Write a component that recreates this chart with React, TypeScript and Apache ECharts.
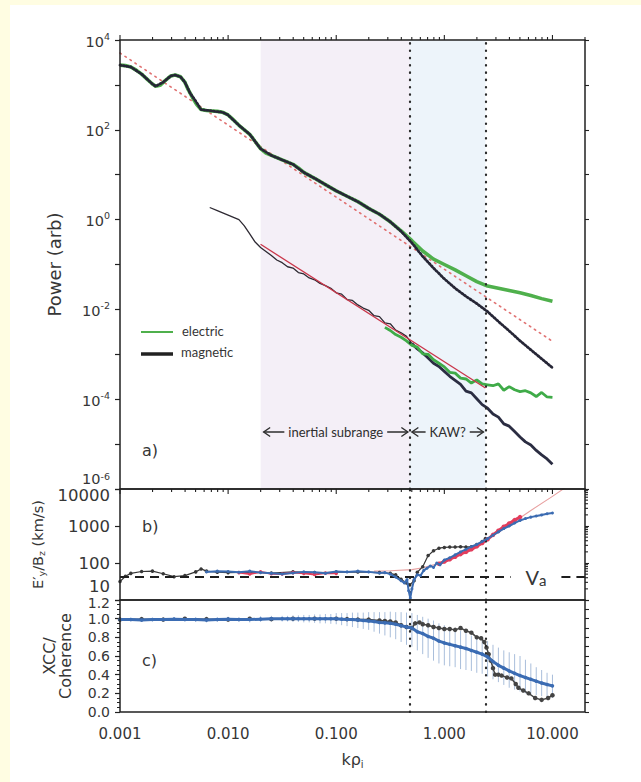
import React, { useEffect, useRef } from 'react';
import * as echarts from 'echarts';

// ---------- axis ranges (all plotted in log10 units where the axis is logarithmic) ----------
const LOGK_MIN = -3;                 // kρi = 0.001
const LOGK_MAX = Math.log10(20);     // kρi = 20
const LOGP_RANGE = [-6, 4];          // power 1e-6 .. 1e4
const LOGV_RANGE = [1, 4];           // 10 .. 10000 km/s
const COH_RANGE = [0, 1.2];

// ranges marked on the kρi axis
const K_INERTIAL_START = 0.02;
const K_KAW_START = 0.48;
const K_KAW_END = 2.4;

// Alfvén speed line (km/s) and the kρi span left open for its label
const VA = 42;
const VA_GAP = [4.1, 12.1];

// ---------- panel a: power spectra (log10 kρi, log10 power) ----------
const elecUpLogK = [-3.0, -2.95, -2.9, -2.85, -2.8, -2.75, -2.7, -2.67, -2.63, -2.58, -2.53, -2.49, -2.44, -2.4, -2.37, -2.33, -2.29, -2.25, -2.2, -2.15, -2.1, -2.05, -2.0, -1.95, -1.9, -1.85, -1.8, -1.75, -1.7, -1.65, -1.6, -1.55, -1.5, -1.45, -1.4, -1.35, -1.3, -1.2, -1.1, -1.0, -0.9, -0.8, -0.7, -0.6, -0.5, -0.4, -0.3, -0.2, -0.1, 0.0, 0.1, 0.2, 0.3, 0.4, 0.5, 0.6, 0.7, 0.8, 0.9, 1.0];
const elecUpLogP = [3.44, 3.43, 3.40, 3.33, 3.24, 3.13, 3.02, 2.97, 2.99, 3.10, 3.20, 3.22, 3.18, 3.06, 2.90, 2.72, 2.56, 2.45, 2.43, 2.42, 2.41, 2.39, 2.33, 2.22, 2.10, 2.00, 1.90, 1.74, 1.58, 1.48, 1.43, 1.38, 1.33, 1.28, 1.23, 1.15, 1.05, 0.92, 0.78, 0.64, 0.52, 0.40, 0.25, 0.12, -0.05, -0.25, -0.47, -0.70, -0.88, -1.0, -1.12, -1.25, -1.38, -1.48, -1.53, -1.58, -1.63, -1.69, -1.76, -1.82];

const magUpLogK = [-3.0, -2.9, -2.8, -2.7, -2.67, -2.6, -2.53, -2.49, -2.44, -2.4, -2.35, -2.3, -2.25, -2.15, -2.05, -2.0, -1.9, -1.8, -1.7, -1.6, -1.5, -1.4, -1.3, -1.2, -1.1, -1.0, -0.9, -0.8, -0.7, -0.6, -0.5, -0.4, -0.3, -0.2, -0.1, 0.0, 0.1, 0.2, 0.3, 0.4, 0.5, 0.6, 0.7, 0.8, 0.9, 1.0];
const magUpLogP = [3.44, 3.40, 3.24, 3.02, 2.97, 3.06, 3.20, 3.22, 3.18, 3.06, 2.81, 2.64, 2.45, 2.42, 2.39, 2.33, 2.10, 1.90, 1.58, 1.43, 1.33, 1.23, 1.05, 0.92, 0.78, 0.64, 0.52, 0.40, 0.25, 0.12, -0.05, -0.26, -0.52, -0.82, -1.08, -1.32, -1.53, -1.71, -1.87, -2.05, -2.27, -2.48, -2.70, -2.90, -3.10, -3.30];

const magLowLogK = [-2.17, -2.1, -2.05, -2.0, -1.95, -1.9, -1.85, -1.8, -1.75, -1.7, -1.65, -1.6, -1.55, -1.5, -1.45, -1.4, -1.35, -1.3, -1.25, -1.2, -1.15, -1.1, -1.05, -1.0, -0.95, -0.9, -0.85, -0.8, -0.75, -0.7, -0.65, -0.6, -0.55, -0.5, -0.45, -0.4, -0.35, -0.3];
const magLowLogP = [0.27, 0.20, 0.15, 0.10, 0.05, 0.00, -0.14, -0.32, -0.50, -0.62, -0.71, -0.80, -0.90, -0.96, -1.05, -1.08, -1.18, -1.21, -1.30, -1.34, -1.42, -1.47, -1.53, -1.63, -1.66, -1.78, -1.80, -1.90, -1.97, -2.02, -2.14, -2.16, -2.30, -2.32, -2.46, -2.52, -2.60, -2.76];

const magKawLogK = [-0.3, -0.25, -0.2, -0.15, -0.1, -0.05, 0.0, 0.05, 0.1, 0.15, 0.2, 0.25, 0.3, 0.35, 0.4, 0.45, 0.5, 0.55, 0.6, 0.65, 0.7, 0.75, 0.8, 0.85, 0.9, 0.95, 1.0];
const magKawLogP = [-2.76, -2.88, -2.97, -3.08, -3.20, -3.27, -3.38, -3.49, -3.58, -3.67, -3.82, -3.86, -3.99, -4.12, -4.20, -4.33, -4.40, -4.55, -4.60, -4.72, -4.84, -4.95, -5.02, -5.14, -5.24, -5.33, -5.45];

const elecLowLogK = [-0.55, -0.5, -0.45, -0.4, -0.35, -0.3, -0.25, -0.2, -0.15, -0.1, -0.05, 0.0, 0.05, 0.1, 0.15, 0.2, 0.25, 0.3, 0.35, 0.4, 0.45, 0.5, 0.55, 0.6, 0.65, 0.7, 0.75, 0.8, 0.85, 0.9, 0.95, 1.0];
const elecLowLogP = [-2.40, -2.47, -2.56, -2.62, -2.70, -2.80, -2.84, -2.99, -3.00, -3.12, -3.20, -3.28, -3.40, -3.42, -3.53, -3.55, -3.64, -3.57, -3.66, -3.68, -3.70, -3.66, -3.80, -3.72, -3.79, -3.83, -3.81, -3.86, -3.94, -3.85, -3.95, -3.96];

// power-law fits
const fitUpLogK = [-3.0, 1.0];
const fitUpLogP = [3.71, -2.71];
const fitLowLogK = [-1.7, 0.38];
const fitLowLogP = [-0.55, -3.75];

// ---------- panel b: E'y/Bz (log10 kρi, log10 km/s) ----------
const ratioBlackLogK = [-3.0, -2.95, -2.9, -2.8, -2.7, -2.6, -2.5, -2.4, -2.3, -2.25, -2.2, -2.1, -2.0, -1.8, -1.6, -1.4, -1.2, -1.0, -0.8, -0.6, -0.5, -0.45, -0.4, -0.35, -0.32, -0.28, -0.25, -0.2, -0.15, -0.1, -0.05, 0.0, 0.05, 0.1, 0.15, 0.2, 0.25, 0.3, 0.35, 0.38];
const ratioBlackLogV = [1.50, 1.64, 1.72, 1.77, 1.78, 1.71, 1.63, 1.66, 1.76, 1.84, 1.78, 1.75, 1.74, 1.75, 1.73, 1.76, 1.74, 1.75, 1.76, 1.74, 1.72, 1.68, 1.56, 1.46, 1.41, 1.52, 1.75, 1.90, 2.20, 2.33, 2.40, 2.42, 2.43, 2.43, 2.44, 2.43, 2.44, 2.50, 2.58, 2.66];

const ratioBlueLogK = [-2.2, -2.1, -2.0, -1.9, -1.8, -1.7, -1.6, -1.5, -1.4, -1.3, -1.2, -1.1, -1.0, -0.9, -0.8, -0.7, -0.6, -0.55, -0.5, -0.45, -0.4, -0.37, -0.345, -0.33, -0.315, -0.3, -0.28, -0.25, -0.22, -0.19, -0.16, -0.13, -0.1, -0.07, -0.04, 0.0, 0.05, 0.1, 0.15, 0.2, 0.25, 0.3, 0.35, 0.4, 0.45, 0.5, 0.55, 0.6, 0.65, 0.7, 0.75, 0.8, 0.85, 0.9, 0.95, 1.0];
const ratioBlueLogV = [1.76, 1.78, 1.77, 1.75, 1.78, 1.74, 1.72, 1.70, 1.73, 1.76, 1.75, 1.72, 1.77, 1.76, 1.78, 1.76, 1.73, 1.74, 1.70, 1.62, 1.52, 1.46, 1.55, 1.25, 1.05, 1.30, 1.55, 1.68, 1.66, 1.80, 1.86, 1.92, 1.88, 2.00, 1.95, 2.08, 2.14, 2.22, 2.30, 2.37, 2.44, 2.50, 2.58, 2.66, 2.75, 2.84, 2.93, 3.00, 3.08, 3.15, 3.20, 3.24, 3.27, 3.30, 3.33, 3.35];

const ratioRedLoLogK = [-1.9, -1.8, -1.7, -1.6, -1.5, -1.4, -1.3, -1.2, -1.1, -1.0];
const ratioRedLoLogV = [1.74, 1.70, 1.76, 1.71, 1.70, 1.74, 1.72, 1.69, 1.73, 1.72];
const ratioRedHiLogK = [-0.05, 0.0, 0.05, 0.1, 0.15, 0.2, 0.25, 0.3, 0.35, 0.4, 0.45, 0.5, 0.55, 0.6, 0.65, 0.7];
const ratioRedHiLogV = [1.98, 2.04, 2.10, 2.17, 2.24, 2.30, 2.37, 2.45, 2.54, 2.64, 2.76, 2.87, 2.98, 3.07, 3.16, 3.24];

const kawModelLogK = [-0.65, -0.5, -0.3, -0.2, -0.1, 0.0, 0.2, 0.4, 0.6, 0.8, 1.0, 1.15];
const kawModelLogV = [1.78, 1.79, 1.82, 1.87, 1.95, 2.05, 2.32, 2.65, 3.02, 3.42, 3.8, 4.1];

// ---------- panel c: cross-correlation / coherence ----------
const cohLogK = [-3.0, -2.9, -2.8, -2.7, -2.6, -2.5, -2.4, -2.3, -2.2, -2.1, -2.0, -1.9, -1.8, -1.7, -1.6, -1.5, -1.45, -1.4, -1.35, -1.3, -1.25, -1.2, -1.15, -1.1, -1.05, -1.0, -0.95, -0.9, -0.85, -0.8, -0.75, -0.7, -0.65, -0.6, -0.55, -0.5, -0.45, -0.4, -0.35, -0.3, -0.25, -0.2, -0.15, -0.1, -0.05, 0.0, 0.05, 0.1, 0.15, 0.2, 0.25, 0.3, 0.35, 0.4, 0.45, 0.5, 0.55, 0.6, 0.65, 0.7, 0.75, 0.8, 0.85, 0.9, 0.95, 1.0];
const cohMean = [0.99, 0.99, 0.985, 0.99, 0.99, 0.995, 0.99, 0.99, 0.985, 0.99, 0.995, 0.99, 0.99, 0.995, 1.0, 1.0, 1.0, 1.0, 1.0, 1.0, 1.0, 1.0, 1.0, 1.0, 1.0, 1.0, 0.995, 0.99, 0.99, 0.985, 0.98, 0.975, 0.97, 0.96, 0.955, 0.95, 0.94, 0.925, 0.91, 0.9, 0.86, 0.84, 0.81, 0.79, 0.76, 0.74, 0.725, 0.71, 0.695, 0.68, 0.66, 0.64, 0.62, 0.59, 0.54, 0.5, 0.47, 0.44, 0.415, 0.39, 0.37, 0.35, 0.33, 0.31, 0.295, 0.28];
const cohHigh = [1.01, 1.01, 1.005, 1.01, 1.01, 1.015, 1.01, 1.015, 1.01, 1.015, 1.02, 1.015, 1.02, 1.025, 1.03, 1.03, 1.03, 1.035, 1.035, 1.04, 1.04, 1.045, 1.045, 1.05, 1.05, 1.06, 1.06, 1.06, 1.065, 1.065, 1.065, 1.07, 1.07, 1.07, 1.07, 1.075, 1.07, 1.07, 1.065, 1.06, 1.04, 1.02, 1.0, 0.98, 0.95, 0.93, 0.91, 0.89, 0.87, 0.85, 0.82, 0.8, 0.78, 0.76, 0.72, 0.69, 0.66, 0.64, 0.62, 0.6, 0.56, 0.52, 0.48, 0.45, 0.42, 0.4];
const cohLow = [0.97, 0.97, 0.965, 0.97, 0.97, 0.975, 0.97, 0.965, 0.96, 0.965, 0.97, 0.965, 0.96, 0.965, 0.97, 0.97, 0.97, 0.965, 0.965, 0.96, 0.96, 0.955, 0.95, 0.95, 0.945, 0.94, 0.93, 0.92, 0.91, 0.9, 0.89, 0.88, 0.86, 0.84, 0.82, 0.8, 0.78, 0.75, 0.72, 0.7, 0.66, 0.62, 0.58, 0.55, 0.52, 0.5, 0.49, 0.48, 0.46, 0.45, 0.44, 0.42, 0.41, 0.38, 0.35, 0.32, 0.29, 0.26, 0.24, 0.22, 0.2, 0.19, 0.18, 0.17, 0.16, 0.15];

const xccLogK = [-3.0, -2.8, -2.6, -2.4, -2.2, -2.0, -1.8, -1.6, -1.4, -1.2, -1.0, -0.9, -0.8, -0.7, -0.6, -0.55, -0.5, -0.45, -0.4, -0.35, -0.3, -0.27, -0.23, -0.2, -0.15, -0.1, -0.05, 0.0, 0.05, 0.1, 0.15, 0.2, 0.25, 0.3, 0.34, 0.37, 0.39, 0.41, 0.43, 0.45, 0.47, 0.5, 0.53, 0.58, 0.62, 0.66, 0.685, 0.73, 0.78, 0.84, 0.9, 0.96, 1.0];
const xccValue = [0.99, 0.995, 0.99, 1.0, 0.995, 0.99, 1.0, 0.995, 1.0, 1.0, 1.0, 0.995, 0.99, 0.99, 0.98, 0.975, 0.97, 0.96, 0.93, 0.91, 0.9, 0.95, 0.96, 0.94, 0.93, 0.91, 0.9, 0.89, 0.89, 0.88, 0.9, 0.87, 0.85, 0.8, 0.79, 0.75, 0.69, 0.62, 0.55, 0.47, 0.4, 0.4, 0.39, 0.37, 0.36, 0.3, 0.26, 0.23, 0.2, 0.15, 0.13, 0.15, 0.18];

// ---------- layout & style ----------
const L = 120;
const W = 465;
const A_TOP = 40, A_H = 449;
const B_TOP = 489, B_H = 111;
const C_TOP = 600, C_H = 112;

const AXIS_FONT = '"DejaVu Sans", Verdana, sans-serif';
const NOTE_FONT = 'Lato, "Open Sans", sans-serif';
const INK = '#363636';
const FRAME = '#222222';

const lg = Math.log10;
const pairs = (xs: number[], ys: number[]) => xs.map((x, i) => [x, ys[i]]);

const DOTTED = { type: [0.5, 6.8], width: 2.2, color: '#2a2a2a', cap: 'round' as const };
const NO_LINE = { show: false, onZero: false };

function dividerLines(gridIdx: number, yIdx: number, extra: any = {}) {
  return {
    type: 'line',
    xAxisIndex: gridIdx,
    yAxisIndex: yIdx,
    data: [],
    silent: true,
    z: 1,
    markLine: {
      silent: true,
      symbol: ['none', 'none'],
      label: { show: false },
      lineStyle: DOTTED,
      data: [{ xAxis: lg(K_KAW_START) }, { xAxis: lg(K_KAW_END) }],
    },
    ...extra,
  };
}

function tickSeries(xIdx: number, yIdx: number, data: number[][]) {
  return {
    type: 'custom',
    xAxisIndex: xIdx,
    yAxisIndex: yIdx,
    silent: true,
    clip: false,
    z: 20,
    encode: { x: 0, y: 1 },
    data,
    renderItem: (_p: any, api: any) => {
      const p = api.coord([api.value(0), api.value(1)]);
      return {
        type: 'line',
        shape: { x1: p[0], y1: p[1], x2: p[0] + api.value(2), y2: p[1] + api.value(3) },
        style: { stroke: FRAME, lineWidth: 1.1 },
      };
    },
  };
}

function buildOption() {
  // log-spaced ticks along kρi on the top and bottom edges of panel a
  const ticksA: number[][] = [];
  for (let n = -3; n <= 1; n++) {
    for (let m = 1; m <= 9; m++) {
      const v = n + lg(m);
      if (v > LOGK_MAX + 1e-9) continue;
      const len = m === 1 ? 5 : 3;
      ticksA.push([v, LOGP_RANGE[1], 0, -len]);
      ticksA.push([v, LOGP_RANGE[0], 0, len]);
    }
  }
  // log-spaced minor ticks on the right edge of panel b
  const ticksB: number[][] = [];
  for (let n = 1; n <= 3; n++) {
    for (let m = 2; m <= 9; m++) ticksB.push([LOGK_MAX, n + lg(m), 3, 0]);
  }

  const labelBase = { color: INK, fontFamily: AXIS_FONT };

  const xAxis = [0, 1, 2].map((g) => ({
    type: 'value',
    gridIndex: g,
    min: LOGK_MIN,
    max: LOGK_MAX,
    interval: 1,
    axisLine: NO_LINE,
    axisTick: { show: false },
    splitLine: { show: false },
    axisLabel:
      g === 2
        ? {
            ...labelBase,
            fontSize: 15,
            margin: 14,
            formatter: (v: number) => (Math.abs(v - Math.round(v)) < 1e-9 ? Math.pow(10, v).toFixed(3) : ''),
          }
        : { show: false },
    ...(g === 2
      ? {
          name: 'kρ{i|i}',
          nameLocation: 'middle',
          nameGap: 37,
          nameTextStyle: {
            ...labelBase,
            fontSize: 16,
            lineHeight: 20,
            rich: { i: { ...labelBase, fontSize: 10, lineHeight: 20, verticalAlign: 'bottom' } },
          },
        }
      : {}),
  }));

  const rightAxis = (g: number, min: number, max: number, interval: number) => ({
    type: 'value',
    gridIndex: g,
    position: 'right',
    min,
    max,
    interval,
    axisLine: NO_LINE,
    axisLabel: { show: false },
    splitLine: { show: false },
    axisTick: { show: true, length: 4, lineStyle: { color: FRAME, width: 1.1 } },
  });

  const yAxis = [
    {
      type: 'value',
      gridIndex: 0,
      position: 'left',
      min: LOGP_RANGE[0],
      max: LOGP_RANGE[1],
      interval: 1,
      axisLine: NO_LINE,
      splitLine: { show: false },
      axisTick: { show: true, length: 5, lineStyle: { color: FRAME, width: 1.2 } },
      axisLabel: {
        ...labelBase,
        margin: 10,
        verticalAlignMinLabel: 'bottom',
        formatter: (v: number) => {
          const e = Math.round(v);
          if (e % 2 !== 0) return '';
          // the lowest label is lifted a little off the panel b scale
          return e <= LOGP_RANGE[0] ? `{bl|10}{sl|${e}}` : `{b|10}{s|${e}}`;
        },
        rich: {
          b: { ...labelBase, fontSize: 14.5, lineHeight: 18, verticalAlign: 'bottom' },
          s: { ...labelBase, fontSize: 9.5, lineHeight: 18, verticalAlign: 'top' },
          bl: { ...labelBase, fontSize: 14.5, lineHeight: 18, verticalAlign: 'bottom', padding: [0, 0, 3, 0] },
          sl: { ...labelBase, fontSize: 9.5, lineHeight: 18, verticalAlign: 'top', padding: [0, 0, 3, 0] },
        },
      },
      name: 'Power (arb)',
      nameLocation: 'middle',
      nameGap: 57,
      nameTextStyle: { ...labelBase, fontSize: 18 },
    },
    rightAxis(0, LOGP_RANGE[0], LOGP_RANGE[1], 1),
    {
      type: 'value',
      gridIndex: 1,
      position: 'left',
      min: LOGV_RANGE[0],
      max: LOGV_RANGE[1],
      interval: 1,
      axisLine: NO_LINE,
      splitLine: { show: false },
      axisTick: { show: true, length: 5, lineStyle: { color: FRAME, width: 1.2 } },
      axisLabel: {
        ...labelBase,
        fontSize: 16.5,
        margin: 10,
        verticalAlignMinLabel: 'bottom',
        formatter: (v: number) => {
          const s = String(Math.round(Math.pow(10, v)));
          if (v >= LOGV_RANGE[1]) return `{top|${s}}`;
          if (v <= LOGV_RANGE[0]) return `{bot|${s}}`;
          return s;
        },
        rich: {
          top: { ...labelBase, fontSize: 16.5, padding: [13, 0, 0, 0] },
          bot: { ...labelBase, fontSize: 16.5, padding: [0, 0, 5, 0] },
        },
      },
      name: 'E′{sub|y}/B{sub|z} (km/s)',
      nameLocation: 'middle',
      nameGap: 63,
      nameTextStyle: {
        ...labelBase,
        fontSize: 14.5,
        lineHeight: 18,
        rich: { sub: { ...labelBase, fontSize: 9.5, lineHeight: 18, verticalAlign: 'bottom' } },
      },
    },
    rightAxis(1, LOGV_RANGE[0], LOGV_RANGE[1], 1),
    {
      type: 'value',
      gridIndex: 2,
      position: 'left',
      min: COH_RANGE[0],
      max: COH_RANGE[1],
      interval: 0.2,
      axisLine: NO_LINE,
      splitLine: { show: false },
      axisTick: { show: true, length: 5, lineStyle: { color: FRAME, width: 1.2 } },
      minorTick: { show: true, splitNumber: 4, length: 3, lineStyle: { color: FRAME, width: 1 } },
      axisLabel: {
        ...labelBase,
        fontSize: 14,
        margin: 10,
        formatter: (v: number) => (v >= COH_RANGE[1] - 1e-9 ? `{top|${v.toFixed(1)}}` : v.toFixed(1)),
        rich: { top: { ...labelBase, fontSize: 14, padding: [5, 0, 0, 0] } },
      },
      name: 'XCC/\nCoherence',
      nameLocation: 'middle',
      nameGap: 47,
      nameTextStyle: { ...labelBase, fontSize: 16, lineHeight: 16 },
    },
    rightAxis(2, COH_RANGE[0], COH_RANGE[1], 0.1),
  ];

  const series: any[] = [
    // ----- panel a -----
    dividerLines(0, 0, {
      markArea: {
        silent: true,
        data: [
          [{ xAxis: lg(K_INERTIAL_START), itemStyle: { color: '#f4eff7' } }, { xAxis: lg(K_KAW_START) }],
          [{ xAxis: lg(K_KAW_START), itemStyle: { color: '#edf4fa' } }, { xAxis: lg(K_KAW_END) }],
        ],
      },
    }),
    {
      name: 'fit (upper)',
      type: 'line',
      xAxisIndex: 0,
      yAxisIndex: 0,
      data: pairs(fitUpLogK, fitUpLogP),
      showSymbol: false,
      silent: true,
      z: 2,
      lineStyle: { color: '#e07070', width: 1.6, type: [1.5, 4.5], cap: 'round' },
    },
    {
      name: 'electric',
      type: 'line',
      xAxisIndex: 0,
      yAxisIndex: 0,
      data: pairs(elecUpLogK, elecUpLogP),
      showSymbol: false,
      silent: true,
      z: 3,
      lineStyle: { color: '#4fb04c', width: 3.6 },
    },
    {
      name: 'magnetic (upper)',
      type: 'line',
      xAxisIndex: 0,
      yAxisIndex: 0,
      data: pairs(magUpLogK, magUpLogP),
      showSymbol: false,
      silent: true,
      z: 4,
      lineStyle: { color: '#262636', width: 2.8, type: [1.3, 2.1], cap: 'round' },
    },
    {
      name: 'magnetic',
      type: 'line',
      xAxisIndex: 0,
      yAxisIndex: 0,
      data: pairs(magLowLogK, magLowLogP),
      showSymbol: false,
      silent: true,
      z: 3,
      lineStyle: { color: '#2e2a33', width: 1.3 },
    },
    {
      name: 'magnetic (KAW range)',
      type: 'line',
      xAxisIndex: 0,
      yAxisIndex: 0,
      data: pairs(magKawLogK, magKawLogP),
      showSymbol: false,
      silent: true,
      z: 3,
      lineStyle: { color: '#2b2d42', width: 2.8 },
    },
    {
      name: 'electric (lower)',
      type: 'line',
      xAxisIndex: 0,
      yAxisIndex: 0,
      data: pairs(elecLowLogK, elecLowLogP),
      showSymbol: false,
      silent: true,
      z: 4,
      lineStyle: { color: '#3fab48', width: 2.8 },
    },
    {
      name: 'fit (lower)',
      type: 'line',
      xAxisIndex: 0,
      yAxisIndex: 0,
      data: pairs(fitLowLogK, fitLowLogP),
      showSymbol: false,
      silent: true,
      z: 5,
      lineStyle: { color: '#c9364a', width: 1.3 },
    },
    tickSeries(0, 0, ticksA),

    // ----- panel b -----
    dividerLines(1, 2),
    {
      type: 'line',
      xAxisIndex: 1,
      yAxisIndex: 2,
      data: [],
      silent: true,
      z: 1,
      markLine: {
        silent: true,
        symbol: ['none', 'none'],
        lineStyle: { type: [9, 6], width: 1.8, color: '#1e1e1e' },
        label: { show: false },
        data: [
          [{ coord: [LOGK_MIN, lg(VA)] }, { coord: [lg(VA_GAP[0]), lg(VA)] }],
          [{ coord: [lg(VA_GAP[1]), lg(VA)] }, { coord: [LOGK_MAX, lg(VA)] }],
        ],
      },
    },
    {
      name: 'KAW model',
      type: 'line',
      xAxisIndex: 1,
      yAxisIndex: 2,
      data: pairs(kawModelLogK, kawModelLogV),
      showSymbol: false,
      silent: true,
      z: 2,
      lineStyle: { color: '#e8a0a0', width: 1.1 },
    },
    {
      type: 'line',
      xAxisIndex: 1,
      yAxisIndex: 2,
      data: pairs(ratioBlackLogK, ratioBlackLogV),
      symbol: 'circle',
      symbolSize: 3.5,
      silent: true,
      z: 3,
      itemStyle: { color: '#383838' },
      lineStyle: { color: '#383838', width: 1.2 },
    },
    {
      type: 'line',
      xAxisIndex: 1,
      yAxisIndex: 2,
      data: pairs(ratioRedLoLogK, ratioRedLoLogV),
      symbol: 'circle',
      symbolSize: 3.5,
      silent: true,
      z: 4,
      itemStyle: { color: '#e23d5c' },
      lineStyle: { color: '#e23d5c', width: 2 },
    },
    {
      type: 'line',
      xAxisIndex: 1,
      yAxisIndex: 2,
      data: pairs(ratioRedHiLogK, ratioRedHiLogV),
      symbol: 'circle',
      symbolSize: 4.5,
      silent: true,
      z: 4,
      itemStyle: { color: '#e23d5c' },
      lineStyle: { color: '#e23d5c', width: 3 },
    },
    {
      type: 'line',
      xAxisIndex: 1,
      yAxisIndex: 2,
      data: pairs(ratioBlueLogK, ratioBlueLogV),
      symbol: 'circle',
      symbolSize: 3,
      silent: true,
      z: 5,
      itemStyle: { color: '#3c6cb2' },
      lineStyle: { color: '#3c6cb2', width: 2 },
    },
    tickSeries(1, 2, ticksB),

    // ----- panel c -----
    dividerLines(2, 4),
    {
      type: 'custom',
      xAxisIndex: 2,
      yAxisIndex: 4,
      silent: true,
      z: 2,
      encode: { x: 0, y: [1, 2] },
      data: cohLogK.map((k, i) => [k, cohLow[i], cohHigh[i]]),
      renderItem: (_p: any, api: any) => {
        const lo = api.coord([api.value(0), api.value(1)]);
        const hi = api.coord([api.value(0), api.value(2)]);
        return {
          type: 'line',
          shape: { x1: lo[0], y1: lo[1], x2: hi[0], y2: hi[1] },
          style: { stroke: '#a9bedb', lineWidth: 1 },
        };
      },
    },
    {
      type: 'line',
      xAxisIndex: 2,
      yAxisIndex: 4,
      data: pairs(xccLogK, xccValue),
      symbol: 'circle',
      symbolSize: 4.5,
      silent: true,
      z: 3,
      itemStyle: { color: '#444444' },
      lineStyle: { color: '#444444', width: 1.5 },
    },
    {
      type: 'line',
      xAxisIndex: 2,
      yAxisIndex: 4,
      data: pairs(cohLogK, cohMean),
      symbol: 'circle',
      symbolSize: 3.5,
      silent: true,
      z: 4,
      itemStyle: { color: '#3b6cb3' },
      lineStyle: { color: '#3b6cb3', width: 3 },
    },
  ];

  return {
    animation: false,
    grid: [
      { left: L, top: A_TOP, width: W, height: A_H },
      { left: L, top: B_TOP, width: W, height: B_H },
      { left: L, top: C_TOP, width: W, height: C_H },
    ],
    xAxis,
    yAxis,
    series,
  };
}

function arrowElements(x0: number, x1: number, y: number, label: string, bg: string) {
  const head = 6.5;
  const half = 4.5;
  const stroke = { stroke: '#2e2e2e', lineWidth: 1.4, fill: 'none' };
  return [
    { type: 'line', z: 60, shape: { x1: x0, y1: y, x2: x1, y2: y }, style: { stroke: '#2e2e2e', lineWidth: 1.3 } },
    { type: 'polyline', z: 60, shape: { points: [[x0 + head, y - half], [x0, y], [x0 + head, y + half]] }, style: stroke },
    { type: 'polyline', z: 60, shape: { points: [[x1 - head, y - half], [x1, y], [x1 - head, y + half]] }, style: stroke },
    {
      type: 'text',
      z: 61,
      x: (x0 + x1) / 2,
      y,
      style: {
        text: label,
        fill: '#2e2e2e',
        fontFamily: NOTE_FONT,
        fontSize: 13,
        align: 'center',
        verticalAlign: 'middle',
        backgroundColor: bg,
        padding: [1, 4],
      },
    },
  ];
}

function buildGraphic(chart: echarts.ECharts) {
  const px = (xIdx: number, yIdx: number, x: number, y: number) =>
    chart.convertToPixel({ xAxisIndex: xIdx, yAxisIndex: yIdx }, [x, y]) as number[];

  const arrowY = -4.73;
  const [xi0, ya] = px(0, 0, lg(K_INERTIAL_START), arrowY);
  const [xk0] = px(0, 0, lg(K_KAW_START), arrowY);
  const [xk1] = px(0, 0, lg(K_KAW_END), arrowY);
  const [xVa, yVa] = px(1, 2, lg(VA_GAP[0]), lg(VA));

  const frames = [
    [A_TOP, A_H],
    [B_TOP, B_H],
    [C_TOP, C_H],
  ].map(([t, h]) => ({
    type: 'rect',
    z: 50,
    shape: { x: L, y: t, width: W, height: h },
    style: { fill: 'none', stroke: FRAME, lineWidth: 1.5 },
  }));

  const panelLabel = (text: string, y: number) => ({
    type: 'text',
    z: 60,
    x: L + 22,
    y,
    style: { text, fill: INK, fontFamily: AXIS_FONT, fontSize: 16, align: 'left', verticalAlign: 'middle' },
  });

  const legend = [
    { type: 'line', z: 60, shape: { x1: 141, y1: 332, x2: 173, y2: 332 }, style: { stroke: '#4fb04c', lineWidth: 2 } },
    { type: 'line', z: 60, shape: { x1: 141, y1: 354, x2: 173, y2: 354 }, style: { stroke: '#222222', lineWidth: 3.5 } },
    {
      type: 'text',
      z: 60,
      x: 182,
      y: 331,
      style: { text: 'electric', fill: INK, fontFamily: NOTE_FONT, fontSize: 13, align: 'left', verticalAlign: 'middle' },
    },
    {
      type: 'text',
      z: 60,
      x: 181,
      y: 352,
      style: { text: 'magnetic', fill: INK, fontFamily: NOTE_FONT, fontSize: 13, align: 'left', verticalAlign: 'middle' },
    },
  ];

  return [
    ...frames,
    panelLabel('a)', A_TOP + A_H - 39),
    panelLabel('b)', B_TOP + 37),
    panelLabel('c)', C_TOP + 60),
    ...legend,
    ...arrowElements(xi0 + 3, xk0 - 2, ya, 'inertial subrange', '#f4eff7'),
    ...arrowElements(xk0 + 2, xk1 - 2, ya, 'KAW?', '#edf4fa'),
    {
      type: 'text',
      z: 60,
      x: xVa + 15,
      y: yVa,
      style: {
        text: 'V{a|a}',
        fill: INK,
        fontFamily: NOTE_FONT,
        fontSize: 20,
        lineHeight: 22,
        align: 'left',
        verticalAlign: 'middle',
        rich: { a: { fill: INK, fontFamily: NOTE_FONT, fontSize: 15, lineHeight: 22, verticalAlign: 'bottom' } },
      },
    },
  ];
}

export default function App() {
  const ref = useRef<HTMLDivElement>(null);

  useEffect(() => {
    document.body.style.margin = '0';
    const chart = echarts.init(ref.current as HTMLDivElement, undefined, { renderer: 'svg' });
    chart.setOption(buildOption() as any);
    chart.setOption({ graphic: buildGraphic(chart) } as any);
    return () => chart.dispose();
  }, []);

  return (
    <div style={{ position: 'relative', width: 641, height: 782, background: '#fffde2', overflow: 'hidden' }}>
      <div style={{ position: 'absolute', left: 10, top: 5, right: 0, bottom: 0, background: '#ffffff' }} />
      <div ref={ref} style={{ position: 'absolute', left: 0, top: 0, width: 641, height: 782 }} />
    </div>
  );
}
